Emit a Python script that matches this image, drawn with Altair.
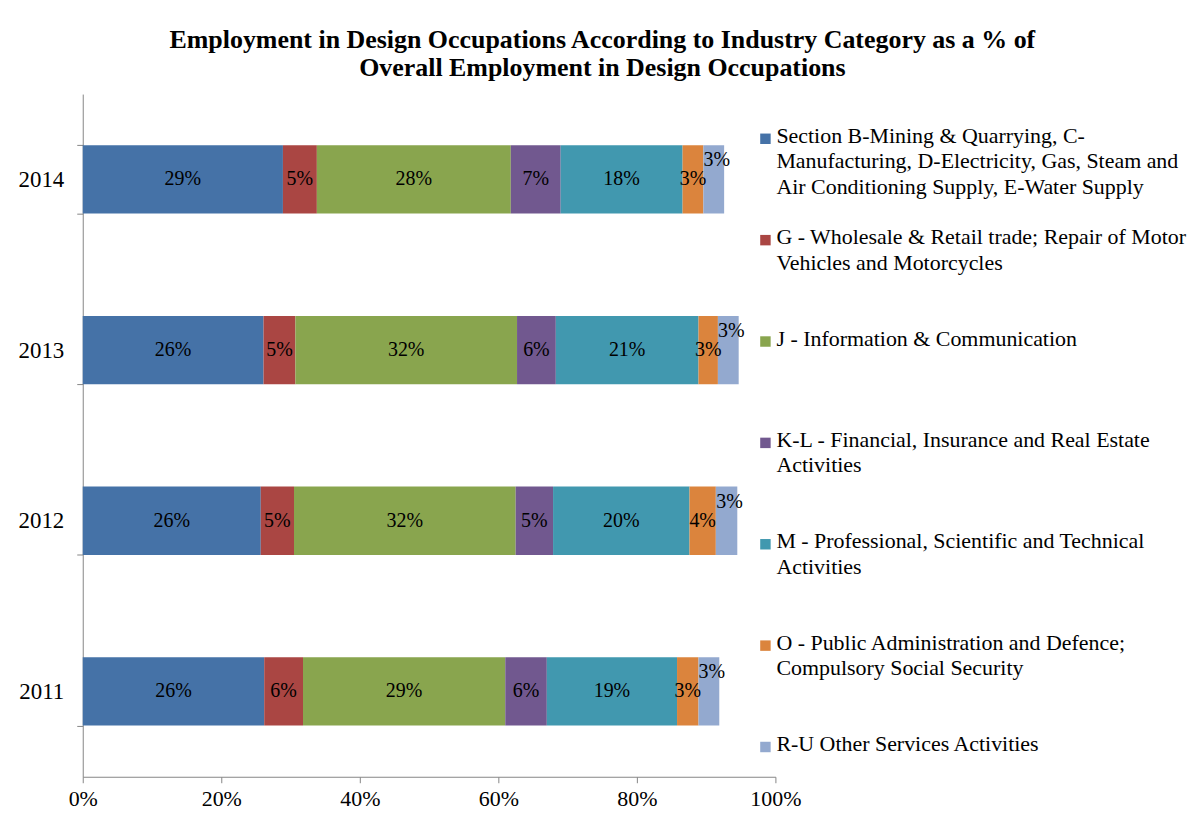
import altair as alt
import pandas as pd

years = ["2014", "2013", "2012", "2011"]

categories = [
    "Section B-Mining & Quarrying, C-Manufacturing, D-Electricity, Gas, Steam and Air Conditioning Supply, E-Water Supply",
    "G - Wholesale & Retail trade; Repair of Motor Vehicles and Motorcycles",
    "J - Information & Communication",
    "K-L - Financial, Insurance and Real Estate Activities",
    "M - Professional, Scientific and Technical Activities",
    "O - Public Administration and Defence; Compulsory Social Security",
    "R-U Other Services Activities",
]

legend_labels = [
    "Section B-Mining & Quarrying, C-\nManufacturing, D-Electricity, Gas, Steam and\nAir Conditioning Supply, E-Water Supply",
    "G - Wholesale & Retail trade; Repair of Motor\nVehicles and Motorcycles",
    "J - Information & Communication",
    "K-L - Financial, Insurance and Real Estate\nActivities",
    "M - Professional, Scientific and Technical\nActivities",
    "O - Public Administration and Defence;\nCompulsory Social Security",
    "R-U Other Services Activities",
]

colors = ["#4572A7", "#AA4643", "#89A54E", "#71588F", "#4198AF", "#DB843D", "#93A9CF"]

# values in % for years 2014, 2013, 2012, 2011
mining = [28.9, 26.1, 25.7, 26.2]
wholesale = [4.9, 4.6, 4.8, 5.6]
information = [28.0, 32.0, 32.0, 29.2]
financial = [7.2, 5.6, 5.4, 6.0]
professional = [17.6, 20.6, 19.7, 18.8]
public_admin = [3.0, 2.8, 3.8, 3.1]
other = [3.0, 3.0, 3.1, 3.0]

x_ticks = [0, 0.2, 0.4, 0.6, 0.8, 1.0]

series = [mining, wholesale, information, financial, professional, public_admin, other]

rows = []
for yi, yr in enumerate(years):
    start = 0.0
    for ci, cat in enumerate(categories):
        v = series[ci][yi] / 100.0
        rows.append(dict(year=yr, category=cat, idx=ci, start=start, end=start + v,
                         mid=start + v / 2, value=v))
        start += v
df = pd.DataFrame(rows)

FONT = "Liberation Serif"
GRAY = "#868686"

color_scale = alt.Scale(domain=categories, range=colors)

y_enc = alt.Y(
    "year:N", sort=years,
    scale=alt.Scale(paddingInner=0.6, paddingOuter=0.3),
    axis=alt.Axis(title=None, tickBand="extent", tickSize=6, labelPadding=13,
                  domainColor=GRAY, tickColor=GRAY, labelFont=FONT, labelFontSize=23,
                  labelColor="black"),
)

base = alt.Chart(df)

bars = base.mark_bar().encode(
    y=y_enc,
    x=alt.X("start:Q", scale=alt.Scale(domain=[0, 1]),
            axis=alt.Axis(title=None, format=".0%", values=x_ticks, grid=False, tickSize=6,
                          labelPadding=6, domainColor=GRAY, tickColor=GRAY, labelFont=FONT,
                          labelFontSize=22, labelColor="black", labelFlush=False,
                          labelOverlap=False)),
    x2="end:Q",
    color=alt.Color("category:N", scale=color_scale, legend=None),
)

labels = base.transform_filter(alt.datum.idx < 6).mark_text(
    font=FONT, fontSize=20, color="black", baseline="middle", align="center"
).encode(
    y=alt.Y("year:N", sort=years),
    x=alt.X("mid:Q"),
    text=alt.Text("value:Q", format=".0%"),
)

small_labels = base.transform_filter(alt.datum.idx == 6).mark_text(
    font=FONT, fontSize=20, color="black", baseline="middle", align="center", dx=3, dy=-19
).encode(
    y=alt.Y("year:N", sort=years),
    x=alt.X("mid:Q"),
    text=alt.Text("value:Q", format=".0%"),
)

main = alt.layer(bars, labels, small_labels).properties(width=695, height=685)

leg_df = pd.DataFrame({"category": categories, "label": legend_labels})
leg_base = alt.Chart(leg_df).encode(
    y=alt.Y("category:N", sort=categories,
            scale=alt.Scale(paddingInner=0, paddingOuter=0), axis=None)
)
squares = leg_base.mark_square(size=110, opacity=1, yOffset=-6).encode(
    x=alt.value(-10),
    color=alt.Color("category:N", scale=color_scale, legend=None),
)
texts = leg_base.mark_text(
    align="left", baseline="top", lineBreak="\n", font=FONT, fontSize=22,
    lineHeight=25.5, color="black", yOffset=-6, dy=-13
).encode(
    x=alt.value(1),
    text="label:N",
)
legend = alt.layer(squares, texts).properties(width=395, height=712)

chart = alt.hconcat(main, legend, spacing=0, bounds="flush").properties(
    title=alt.Title(
        text=["Employment in Design Occupations According to Industry Category as a % of",
              "Overall Employment in Design Occupations"],
        font=FONT, fontSize=26, fontWeight="bold", color="black",
        anchor="middle", lineHeight=28, offset=2,
    ),
    padding={"left": 10, "top": 18, "right": 0, "bottom": 0},
).configure_view(stroke=None)

chart.save("out.html", embed_options={"renderer": "svg", "actions": False})
